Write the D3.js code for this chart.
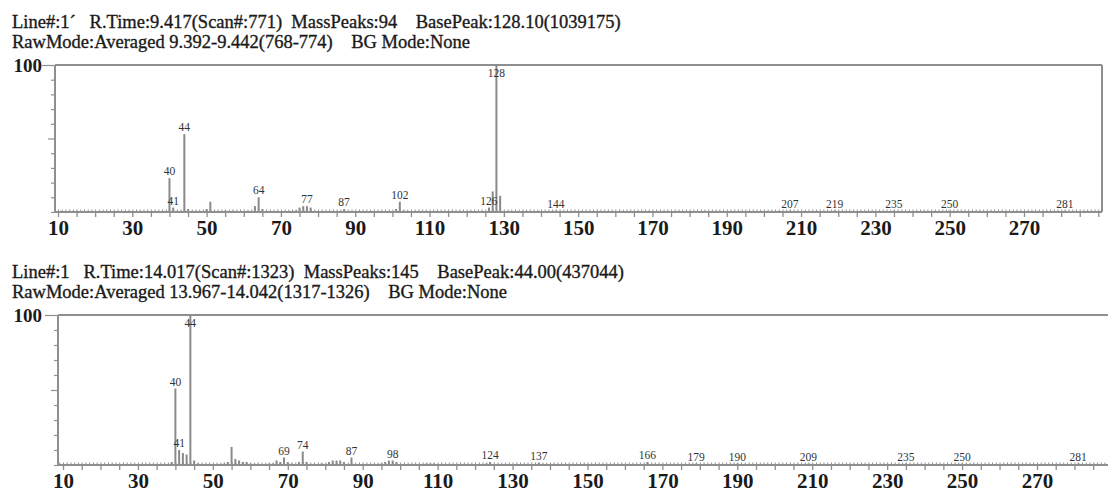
<!DOCTYPE html>
<html>
<head>
<meta charset="utf-8">
<script src="https://cdn.jsdelivr.net/npm/d3@7"></script>
<style>
  html, body { margin: 0; padding: 0; background: #fff; }
  svg { display: block; }
  text { font-family: "Liberation Serif", "Times New Roman", serif; }
</style>
</head>
<body>
<svg id="chart" width="1108" height="497"></svg>
<script>
// Mass spectra of two chromatogram scans (m/z vs relative intensity, %)
const mzTickLabels = [10, 30, 50, 70, 90, 110, 130, 150, 170, 190, 210, 230, 250, 270];

const topHeader = [
  "Line#:1\u02CA   R.Time:9.417(Scan#:771)  MassPeaks:94    BasePeak:128.10(1039175)",
  "RawMode:Averaged 9.392-9.442(768-774)    BG Mode:None"
];
const topMz  = [40, 41, 44, 45, 50, 51, 55, 57, 63, 64, 65, 74, 75, 76, 77, 78, 87, 101, 102, 103, 126, 127, 128, 129, 144, 207, 219, 235, 250, 281];
const topInt = [23, 3, 53, 2, 2, 7, 1, 1, 4, 10, 2, 1, 3, 4, 4, 3, 2, 2, 7, 1, 3, 14, 100, 11, 1, 1, 1, 1, 1, 1];
const topLabels = [40, 41, 44, 64, 77, 87, 102, 126, 128, 144, 207, 219, 235, 250, 281];

const bottomHeader = [
  "Line#:1   R.Time:14.017(Scan#:1323)  MassPeaks:145    BasePeak:44.00(437044)",
  "RawMode:Averaged 13.967-14.042(1317-1326)    BG Mode:None"
];
const bottomMz  = [39, 40, 41, 42, 43, 44, 45, 46, 53, 54, 55, 56, 57, 58, 59, 60, 65, 66, 67, 68, 69, 70, 71, 73, 74, 75, 79, 81, 82, 83, 84, 85, 87, 95, 96, 97, 98, 99, 107, 108, 109, 123, 124, 137, 166, 179, 190, 209, 235, 250, 281];
const bottomInt = [2, 51, 10, 8, 7, 100, 3, 1, 1, 2, 12, 4, 3, 2, 2, 1, 1, 1, 3, 2, 5, 2, 1, 2, 9, 2, 1, 2, 3, 3, 3, 2, 5, 1, 2, 3, 3, 2, 1, 1, 1, 1, 2, 1.5, 2, 1, 1, 1, 1, 1, 1];
const bottomLabels = [40, 41, 44, 69, 74, 87, 98, 124, 137, 166, 179, 190, 209, 235, 250, 281];

const svg = d3.select("#chart");
const lineColor = "#8f8f8f";
const textColor = "#1a1a1a";

function panel(opts) {
  const { header, headerY, mz, inten, labels, left, right, top, bottom, xAt10, xAt270, rightBorder } = opts;
  const g = svg.append("g");

  // header lines
  g.selectAll("text.hdr").data(header).join("text")
    .attr("class", "hdr")
    .attr("x", 12)
    .attr("y", (d, i) => headerY + i * 20)
    .attr("font-size", 18.5)
    .attr("fill", textColor)
    .attr("stroke", textColor).attr("stroke-width", 0.35)
    .attr("xml:space", "preserve")
    .style("white-space", "pre")
    .text(d => d);

  const x = d3.scaleLinear().domain([10, 270]).range([xAt10, xAt270]);
  const y = d3.scaleLinear().domain([0, 100]).range([bottom, top]);
  const mzEnd = x.invert(right);

  // frame: top line, left axis, optional right border
  g.append("line").attr("x1", left).attr("x2", right).attr("y1", top).attr("y2", top)
    .attr("stroke", lineColor).attr("stroke-width", 2);
  g.append("line").attr("x1", left).attr("x2", left).attr("y1", top).attr("y2", bottom)
    .attr("stroke", lineColor).attr("stroke-width", 2);
  if (rightBorder) {
    g.append("line").attr("x1", right).attr("x2", right).attr("y1", top).attr("y2", bottom)
      .attr("stroke", lineColor).attr("stroke-width", 2);
  }

  // y ticks every 10 %, longer at 50 and 100
  const yAxis = d3.axisLeft(y).tickValues(d3.range(0, 101, 10)).tickFormat("").tickSizeOuter(0)
    .tickSize(4);
  const ya = g.append("g").attr("transform", `translate(${left},0)`).call(yAxis);
  ya.select(".domain").remove();
  ya.selectAll(".tick line").attr("stroke", lineColor).attr("stroke-width", 1.2)
    .attr("x2", d => d === 100 ? -13 : d === 50 ? -7 : -4);
  g.append("text").attr("x", 42).attr("y", y(100)).attr("dy", "0.35em")
    .attr("text-anchor", "end").attr("font-size", 19).attr("font-weight", "bold")
    .attr("fill", textColor).text("100");

  // peaks
  g.selectAll("line.peak").data(mz).join("line")
    .attr("class", "peak")
    .attr("x1", d => x(d)).attr("x2", d => x(d))
    .attr("y1", y(0)).attr("y2", (d, i) => y(inten[i]))
    .attr("stroke", "#8a8a8a").attr("stroke-width", 2);

  // peak labels
  const lookup = new Map(mz.map((m, i) => [m, inten[i]]));
  g.selectAll("text.pl").data(labels).join("text")
    .attr("class", "pl")
    .attr("x", d => x(d))
    .attr("y", d => Math.max(y(lookup.get(d)) - 3, top + 12))
    .attr("text-anchor", "middle").attr("font-size", 11.5)
    .attr("fill", "#333").text(d => d);

  // x axis: baseline, fine ticks every unit, ticks every 5 below
  g.append("line").attr("x1", left).attr("x2", right).attr("y1", bottom).attr("y2", bottom)
    .attr("stroke", lineColor).attr("stroke-width", 2);
  const fine = d3.range(Math.ceil(x.invert(left)), Math.floor(mzEnd) + 1, 1);
  const fa = g.append("g").attr("transform", `translate(0,${bottom})`)
    .call(d3.axisTop(x).tickValues(fine).tickSize(2.5).tickFormat(""));
  fa.select(".domain").remove();
  fa.selectAll(".tick line").attr("stroke", lineColor).attr("stroke-width", 1);
  const fives = d3.range(10, Math.floor(mzEnd) + 1, 5);
  const ma = g.append("g").attr("transform", `translate(0,${bottom})`)
    .call(d3.axisBottom(x).tickValues(fives).tickSize(5).tickFormat(""));
  ma.select(".domain").remove();
  ma.selectAll(".tick line").attr("stroke", lineColor).attr("stroke-width", 1.3);

  const la = g.append("g").attr("transform", `translate(0,${bottom})`)
    .call(d3.axisBottom(x).tickValues(mzTickLabels).tickSize(0).tickPadding(8));
  la.select(".domain").remove();
  la.selectAll(".tick text").attr("font-size", 21).attr("font-weight", "bold")
    .attr("fill", textColor)
    .style("font-family", "'Liberation Serif', 'Times New Roman', serif");
}

panel({
  header: topHeader, headerY: 28,
  mz: topMz, inten: topInt, labels: topLabels,
  left: 55, right: 1102, top: 65, bottom: 212,
  xAt10: 58, xAt270: 1024, rightBorder: true
});

panel({
  header: bottomHeader, headerY: 278,
  mz: bottomMz, inten: bottomInt, labels: bottomLabels,
  left: 58, right: 1108, top: 315, bottom: 465,
  xAt10: 63, xAt270: 1037, rightBorder: false
});
</script>
</body>
</html>
